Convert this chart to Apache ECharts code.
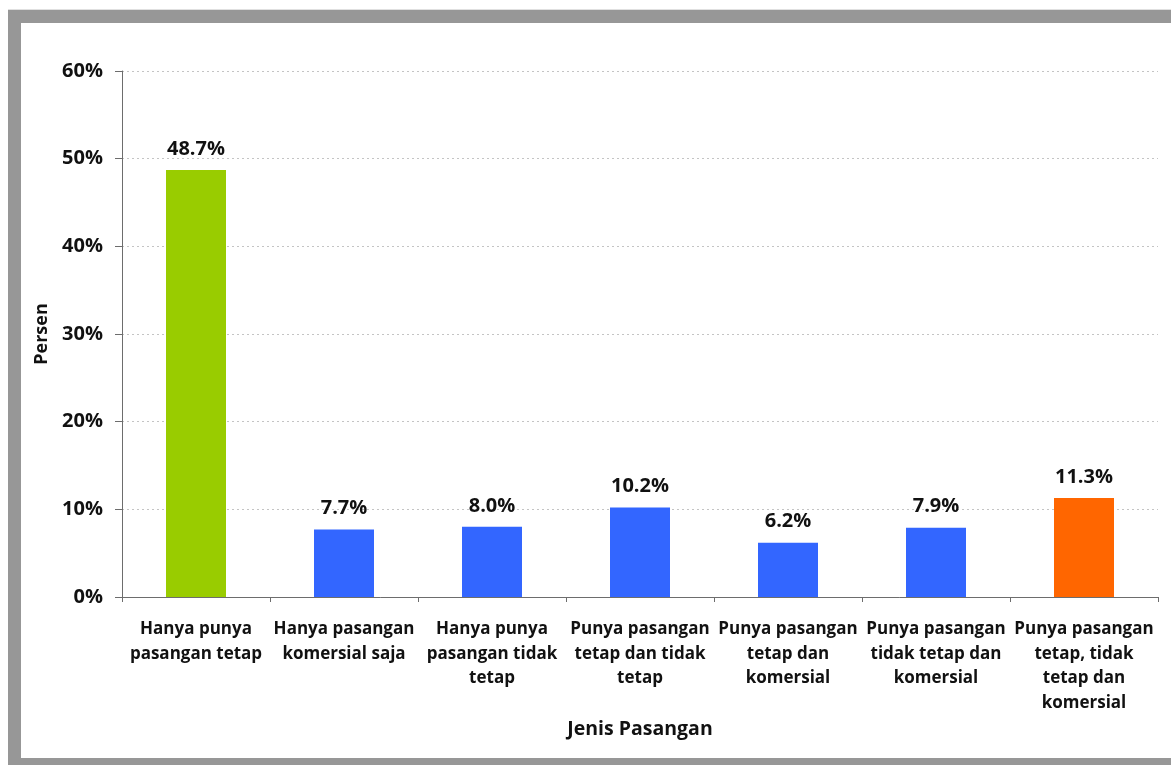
<!DOCTYPE html>
<html>
<head>
<meta charset="utf-8">
<script src="https://cdn.jsdelivr.net/npm/echarts@6/dist/echarts.min.js"></script>
<style>
  html, body { margin: 0; padding: 0; background: #fff; overflow: hidden; }
  #chart { position: absolute; left: 0; top: 0; width: 1171px; height: 765px; }
  #frame {
    position: absolute; left: 8px; top: 10px; width: 1200px; height: 761px;
    border: 13px solid #979797; box-sizing: border-box; pointer-events: none;
  }
  #frameEdge { position: absolute; left: 8px; top: 9px; width: 1200px; height: 1px; background: #e0e0e0; }
</style>
</head>
<body>
<div id="chart"></div>
<div id="frameEdge"></div>
<div id="frame"></div>
<script>
// Jenis pasangan (category labels, line breaks as printed)
const categories = [
  'Hanya punya\npasangan tetap',
  'Hanya pasangan\nkomersial saja',
  'Hanya punya\npasangan tidak\ntetap',
  'Punya pasangan\ntetap dan tidak\ntetap',
  'Punya pasangan\ntetap dan\nkomersial',
  'Punya pasangan\ntidak tetap dan\nkomersial',
  'Punya pasangan\ntetap, tidak\ntetap dan\nkomersial'
];
// Persentase per jenis pasangan
const values = [48.7, 7.7, 8.0, 10.2, 6.2, 7.9, 11.3];
// Y-axis ticks (percent)
const yTicks = [0, 10, 20, 30, 40, 50, 60];
// Bar fill colours
const barColors = ['#99cc00', '#3366ff', '#3366ff', '#3366ff', '#3366ff', '#3366ff', '#ff6600'];

const FONT = '"Open Sans", "DejaVu Sans", sans-serif';
const chart = echarts.init(document.getElementById('chart'), null, { renderer: 'canvas' });

chart.setOption({
  animation: false,
  backgroundColor: 'transparent',
  textStyle: { fontFamily: FONT },
  grid: { left: 122, right: 13, top: 71, bottom: 168, containLabel: false },
  xAxis: {
    type: 'category',
    data: categories,
    name: 'Jenis Pasangan',
    nameLocation: 'middle',
    nameGap: 120,
    nameTextStyle: { fontFamily: FONT, fontWeight: 'bold', fontSize: 19.5, color: '#111' },
    axisLine: { lineStyle: { color: '#6d6d6d', width: 1 } },
    axisTick: { show: true, length: 5, lineStyle: { color: '#6d6d6d' } },
    axisLabel: {
      interval: 0, margin: 20, fontFamily: FONT, fontWeight: 'bold',
      fontSize: 17, lineHeight: 24.5, color: '#111'
    },
    splitLine: { show: false }
  },
  yAxis: {
    type: 'value',
    min: yTicks[0],
    max: yTicks[yTicks.length - 1],
    interval: yTicks[1] - yTicks[0],
    name: 'Persen',
    nameLocation: 'middle',
    nameGap: 65,
    nameTextStyle: { fontFamily: FONT, fontWeight: 'bold', fontSize: 18, color: '#111' },
    axisLine: { show: true, lineStyle: { color: '#6d6d6d', width: 1 } },
    axisTick: { show: true, inside: false, length: 7, lineStyle: { color: '#6d6d6d' } },
    axisLabel: {
      margin: 19, fontFamily: FONT, fontWeight: 'bold', fontSize: 20, color: '#111',
      formatter: v => v + '%'
    },
    splitLine: { show: true, lineStyle: { color: '#c4c4c4', type: [2, 3], width: 1 } }
  },
  series: [{
    type: 'bar',
    barWidth: 60,
    data: values.map((v, i) => ({ value: v, itemStyle: { color: barColors[i] } })),
    label: {
      show: true, position: 'top', distance: 11,
      fontFamily: FONT, fontWeight: 'bold', fontSize: 20, color: '#111',
      formatter: p => p.value.toFixed(1) + '%'
    }
  }]
});
</script>
</body>
</html>
